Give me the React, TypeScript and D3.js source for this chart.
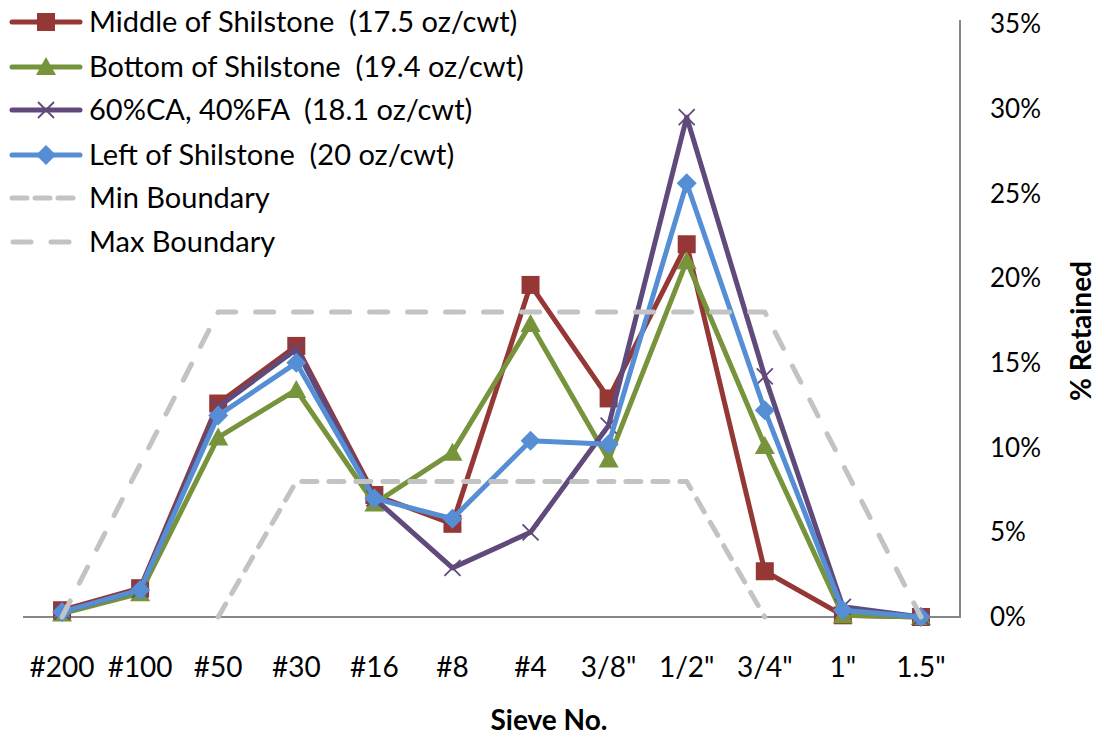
import React from "react";
import * as d3 from "d3";

const categories = ["#200", "#100", "#50", "#30", "#16", "#8", "#4", "3/8\"", "1/2\"", "3/4\"", "1\"", "1.5\""];
const middleValues = [0.4, 1.7, 12.6, 16.0, 7.2, 5.5, 19.6, 12.9, 22.0, 2.7, 0.1, 0.0];
const bottomValues = [0.2, 1.4, 10.6, 13.4, 6.7, 9.7, 17.3, 9.3, 21.0, 10.1, 0.1, 0.0];
const mixValues = [0.3, 1.6, 12.4, 15.8, 7.0, 2.9, 5.0, 11.3, 29.5, 14.2, 0.6, 0.0];
const leftValues = [0.3, 1.6, 11.9, 15.0, 7.0, 5.8, 10.4, 10.2, 25.6, 12.2, 0.4, 0.0];
const minBoundary: (number | null)[] = [null, null, 0, 8, 8, 8, 8, 8, 8, 0, null, null];
const maxBoundary: (number | null)[] = [0, 9, 18, 18, 18, 18, 18, 18, 18, 18, 9, 0];
const yTicks = [0, 5, 10, 15, 20, 25, 30, 35];

const seriesNames = [
  "Middle of Shilstone  (17.5 oz/cwt)",
  "Bottom of Shilstone  (19.4 oz/cwt)",
  "60%CA, 40%FA  (18.1 oz/cwt)",
  "Left of Shilstone  (20 oz/cwt)",
];

const W = 1099;
const H = 736;
const FONT = "Lato, 'Open Sans', sans-serif";

function Marker({ type, x, y, color }: { type: string; x: number; y: number; color: string }) {
  if (type === "square") {
    return <rect x={x - 9} y={y - 9} width={18} height={18} fill={color} />;
  }
  if (type === "triangle") {
    return <path d={`M${x},${y - 10}L${x + 10},${y + 8}L${x - 10},${y + 8}Z`} fill={color} />;
  }
  if (type === "diamond") {
    return <path d={`M${x},${y - 10}L${x + 10},${y}L${x},${y + 10}L${x - 10},${y}Z`} fill={color} />;
  }
  return (
    <path
      d={`M${x - 8},${y - 8}L${x + 8},${y + 8}M${x - 8},${y + 8}L${x + 8},${y - 8}`}
      stroke={color}
      strokeWidth={1.8}
      fill="none"
    />
  );
}

export default function App() {
  const x = d3.scaleBand<string>().domain(categories).range([23, 960]);
  const y = d3.scaleLinear().domain([0, 35]).range([617, 24]);
  const cx = (c: string) => (x(c) as number) + x.bandwidth() / 2;

  const line = d3
    .line<number | null>()
    .defined((d) => d !== null)
    .x((_, i) => cx(categories[i]))
    .y((d) => y(d as number));

  const series = [
    { name: seriesNames[0], values: middleValues, color: "#953735", marker: "square" },
    { name: seriesNames[1], values: bottomValues, color: "#77933C", marker: "triangle" },
    { name: seriesNames[2], values: mixValues, color: "#604A7B", marker: "x" },
    { name: seriesNames[3], values: leftValues, color: "#558ED5", marker: "diamond" },
  ];

  const gray = "#C3C3C3";
  const minDash = "15 12";
  const maxDash = "18 20";

  const legendY = [22, 67, 110, 155, 198, 242];

  return (
    <svg width={W} height={H} style={{ display: "block", position: "absolute", left: 0, top: 0, background: "#fff" }}>
      <rect width={W} height={H} fill="#fff" />
      {/* axes */}
      <path d={`M23,${y(0)}H960V20`} fill="none" stroke="#878787" strokeWidth={2} />

      {/* series */}
      {series.map((s) => (
        <g key={s.name}>
          <path d={line(s.values) as string} fill="none" stroke={s.color} strokeWidth={5} strokeLinejoin="round" />
          {s.values.map((v, i) => (
            <Marker key={i} type={s.marker} x={cx(categories[i])} y={y(v)} color={s.color} />
          ))}
        </g>
      ))}

      {/* boundaries */}
      <path d={line(minBoundary) as string} fill="none" stroke={gray} strokeWidth={5} strokeDasharray={minDash} strokeLinecap="round" strokeLinejoin="round" />
      <path d={line(maxBoundary) as string} fill="none" stroke={gray} strokeWidth={5} strokeDasharray={maxDash} strokeLinecap="round" strokeLinejoin="round" />

      {/* y tick labels */}
      {yTicks.map((t) => (
        <text key={t} x={990} y={y(t)} dy="0.35em" fontFamily={FONT} fontSize={26} fill="#000">
          {t}%
        </text>
      ))}
      <text
        transform={`translate(1081,331) rotate(-90)`}
        textAnchor="middle"
        dy="0.35em"
        fontFamily={FONT}
        fontWeight="bold"
        fontSize={28}
      >
        % Retained
      </text>

      {/* x tick labels */}
      {categories.map((c) => (
        <text key={c} x={cx(c)} y={667} dy="0.35em" textAnchor="middle" fontFamily={FONT} fontSize={28}>
          {c}
        </text>
      ))}
      <text x={549} y={720} dy="0.35em" textAnchor="middle" fontFamily={FONT} fontWeight="bold" fontSize={28}>
        Sieve No.
      </text>

      {/* legend */}
      {series.map((s, i) => (
        <g key={s.name}>
          <line x1={12} x2={80} y1={legendY[i]} y2={legendY[i]} stroke={s.color} strokeWidth={5} strokeLinecap="round" />
          <Marker type={s.marker} x={46} y={legendY[i]} color={s.color} />
          <text x={89} y={legendY[i]} dy="0.35em" fontFamily={FONT} fontSize={29} style={{ whiteSpace: "pre" }}>
            {s.name}
          </text>
        </g>
      ))}
      <line x1={13} x2={76} y1={legendY[4]} y2={legendY[4]} stroke={gray} strokeWidth={5} strokeDasharray="15 8" strokeLinecap="round" transform="translate(-1,0)" />
      <text x={89} y={legendY[4]} dy="0.35em" fontFamily={FONT} fontSize={29}>Min Boundary</text>
      <line x1={13} x2={76} y1={legendY[5]} y2={legendY[5]} stroke={gray} strokeWidth={5} strokeDasharray="18 20" strokeLinecap="round" />
      <text x={89} y={legendY[5]} dy="0.35em" fontFamily={FONT} fontSize={29}>Max Boundary</text>
    </svg>
  );
}
